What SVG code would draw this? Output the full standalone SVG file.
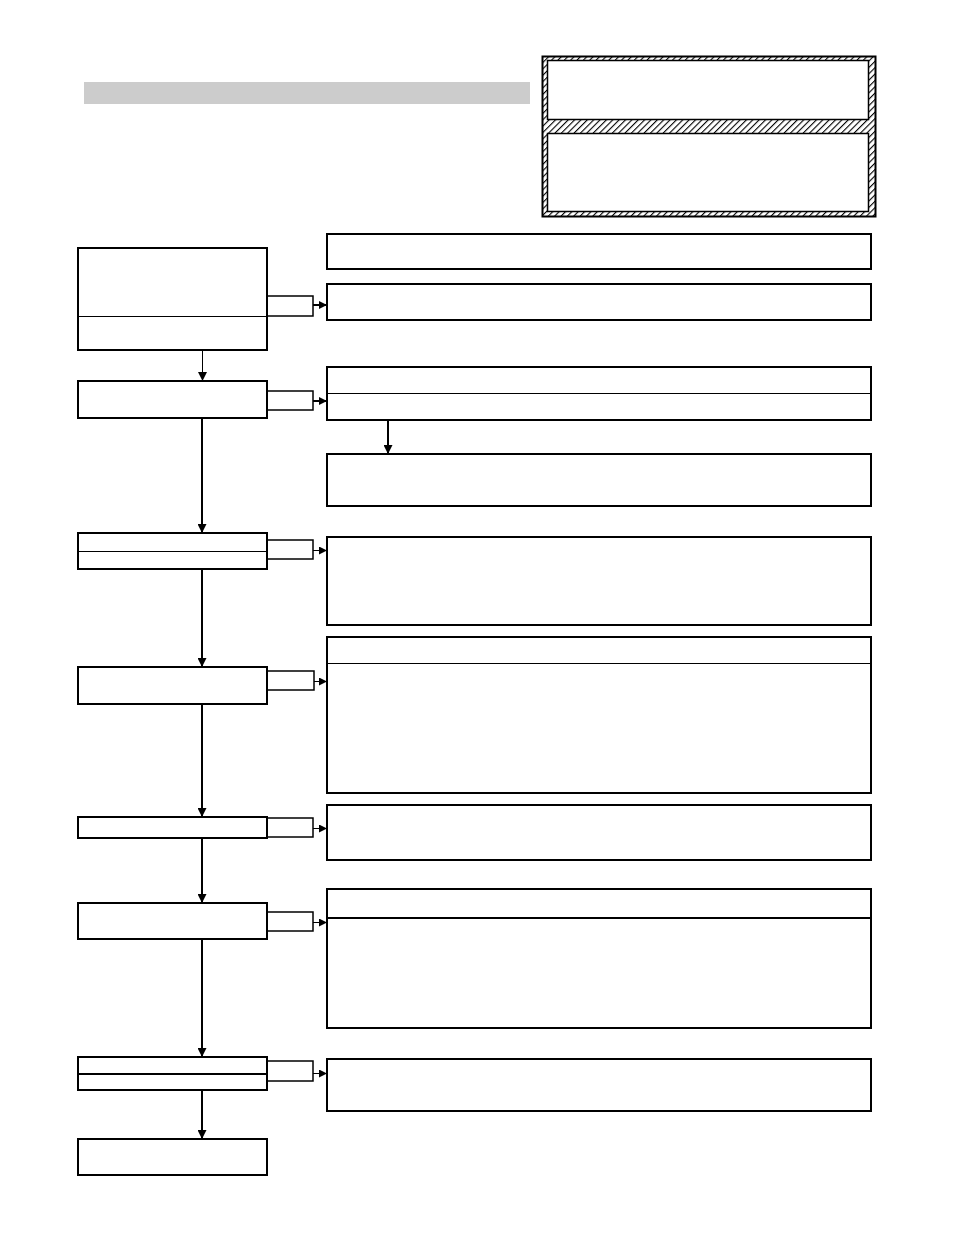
<svg xmlns="http://www.w3.org/2000/svg" width="954" height="1235" viewBox="0 0 954 1235">
<style>
.box{fill:#fff;stroke:#000;stroke-width:2}
.tab{fill:#fff;stroke:#000;stroke-width:1.5}
.div{stroke:#000;stroke-width:1;fill:none}
.con{stroke:#000;stroke-width:2;fill:none}
.thin{stroke:#000;stroke-width:1;fill:none}
</style>
<defs>
<marker id="ah" viewBox="0 0 10 10" refX="10" refY="5" markerWidth="9" markerHeight="8" markerUnits="userSpaceOnUse" orient="auto">
<path d="M0,0 L10,5 L0,10 z" fill="#000"/>
</marker>
<marker id="av" viewBox="0 0 10 10" refX="10" refY="5" markerWidth="9" markerHeight="9" markerUnits="userSpaceOnUse" orient="auto">
<path d="M0,0 L10,5 L0,10 z" fill="#000"/>
</marker>
<pattern id="hatch" width="4.5" height="4.5" patternUnits="userSpaceOnUse" patternTransform="rotate(45)">
<rect width="4.5" height="4.5" fill="#fff"/>
<line x1="0" y1="0" x2="0" y2="4.5" stroke="#000" stroke-width="2.2"/>
</pattern>
</defs>
<rect x="84" y="82" width="446" height="22" fill="#cccccc"/>
<g id="legend">
<rect x="542.5" y="56.5" width="333" height="160" fill="url(#hatch)" stroke="#000" stroke-width="2"/>
<rect x="547.5" y="60.5" width="321" height="59" fill="#fff" stroke="#000" stroke-width="1.5"/>
<rect x="547.5" y="133.5" width="321" height="78" fill="#fff" stroke="#000" stroke-width="1.5"/>
</g>
<g id="connectors">
<line class="thin" x1="202.5" y1="350" x2="202.5" y2="381" marker-end="url(#av)"/>
<line class="con" x1="202" y1="418" x2="202" y2="533" marker-end="url(#av)"/>
<line class="con" x1="202" y1="569" x2="202" y2="667" marker-end="url(#av)"/>
<line class="con" x1="202" y1="704" x2="202" y2="817" marker-end="url(#av)"/>
<line class="con" x1="202" y1="838" x2="202" y2="903" marker-end="url(#av)"/>
<line class="con" x1="202" y1="939" x2="202" y2="1057" marker-end="url(#av)"/>
<line class="con" x1="202" y1="1090" x2="202" y2="1139" marker-end="url(#av)"/>
<line class="con" x1="388" y1="420" x2="388" y2="454" marker-end="url(#av)"/>
<line class="con" x1="313" y1="305" x2="327" y2="305" marker-end="url(#ah)"/>
<line class="con" x1="313" y1="401" x2="327" y2="401" marker-end="url(#ah)"/>
<line class="thin" x1="313" y1="550.5" x2="327" y2="550.5" marker-end="url(#ah)"/>
<line class="thin" x1="314" y1="681.5" x2="327" y2="681.5" marker-end="url(#ah)"/>
<line class="thin" x1="313" y1="828.5" x2="327" y2="828.5" marker-end="url(#ah)"/>
<line class="thin" x1="313" y1="922.5" x2="327" y2="922.5" marker-end="url(#ah)"/>
<line class="thin" x1="313" y1="1073.5" x2="327" y2="1073.5" marker-end="url(#ah)"/>
</g>
<g id="n1">
<rect class="tab" x="267" y="296" width="46" height="20"/>
<rect class="box" x="78" y="248" width="189" height="102"/>
<line class="div" x1="78" y1="316.5" x2="267" y2="316.5"/>
</g>
<g id="n2">
<rect class="tab" x="267" y="391" width="46" height="19"/>
<rect class="box" x="78" y="381" width="189" height="37"/>
</g>
<g id="n3">
<rect class="tab" x="267" y="540" width="46" height="19"/>
<rect class="box" x="78" y="533" width="189" height="36"/>
<line class="div" x1="78" y1="551.5" x2="267" y2="551.5"/>
</g>
<g id="n4">
<rect class="tab" x="267" y="671" width="47" height="19"/>
<rect class="box" x="78" y="667" width="189" height="37"/>
</g>
<g id="n5">
<rect class="tab" x="267" y="818" width="46" height="19"/>
<rect class="box" x="78" y="817" width="189" height="21"/>
</g>
<g id="n6">
<rect class="tab" x="267" y="912" width="46" height="19"/>
<rect class="box" x="78" y="903" width="189" height="36"/>
</g>
<g id="n7">
<rect class="tab" x="267" y="1061" width="46" height="20"/>
<rect class="box" x="78" y="1057" width="189" height="33"/>
<line x1="78" y1="1074" x2="267" y2="1074" stroke="#000" stroke-width="2"/>
</g>
<g id="n8">
<rect class="box" x="78" y="1139" width="189" height="36"/>
</g>
<g id="r1"><rect class="box" x="327" y="234" width="544" height="35"/></g>
<g id="r2"><rect class="box" x="327" y="284" width="544" height="36"/></g>
<g id="r3"><rect class="box" x="327" y="367" width="544" height="53"/><line class="div" x1="327" y1="393.5" x2="871" y2="393.5"/></g>
<g id="r4"><rect class="box" x="327" y="454" width="544" height="52"/></g>
<g id="r5"><rect class="box" x="327" y="537" width="544" height="88"/></g>
<g id="r6"><rect class="box" x="327" y="637" width="544" height="156"/><line class="div" x1="327" y1="663.5" x2="871" y2="663.5"/></g>
<g id="r7"><rect class="box" x="327" y="805" width="544" height="55"/></g>
<g id="r8"><rect class="box" x="327" y="889" width="544" height="139"/><line x1="327" y1="918" x2="871" y2="918" stroke="#000" stroke-width="2"/></g>
<g id="r9"><rect class="box" x="327" y="1059" width="544" height="52"/></g>
</svg>
